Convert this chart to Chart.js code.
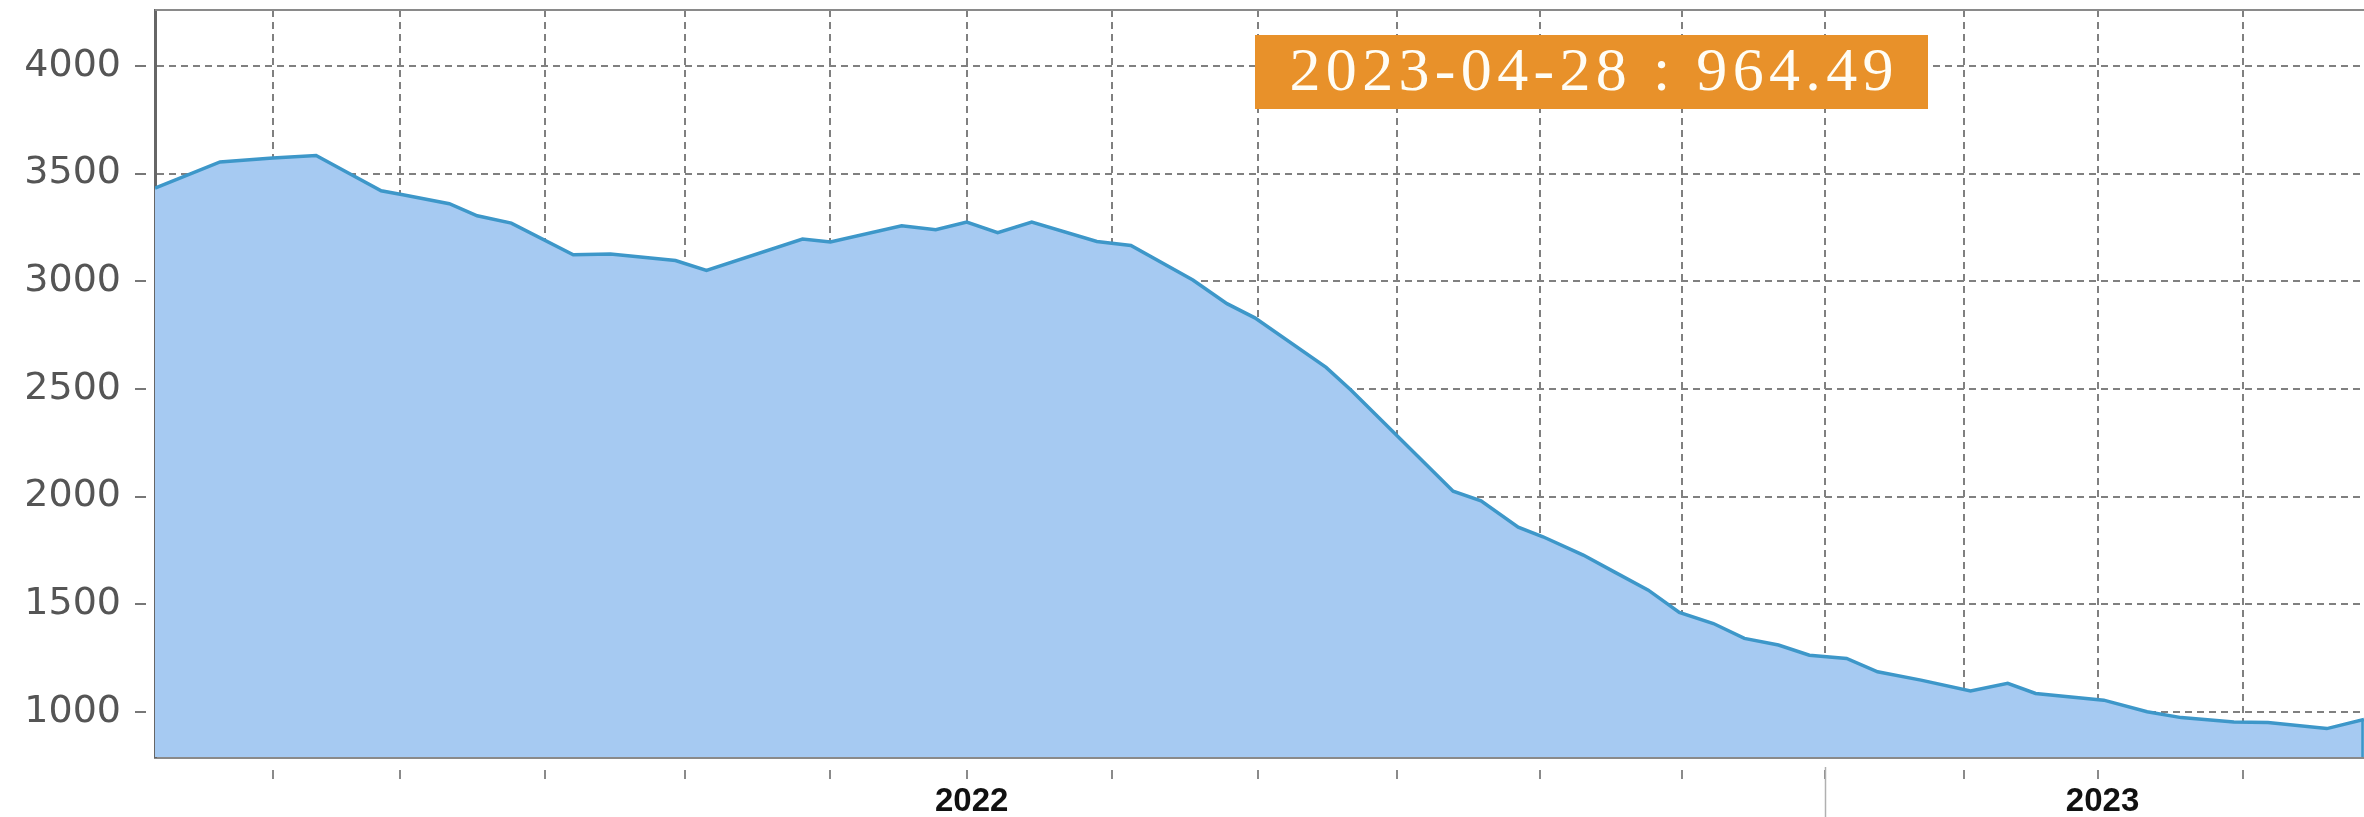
<!DOCTYPE html>
<html><head><meta charset="utf-8">
<script src="https://cdn.jsdelivr.net/npm/chart.js@4.4.1/dist/chart.umd.min.js"></script>
<style>html,body{margin:0;padding:0;background:#fff;} #wrap{width:2364px;height:817px;position:relative;}</style>
</head><body><div id="wrap"><canvas id="c" width="2364" height="817"></canvas></div>
<script>
// ---- data ----
const dates = ['2021-04-14','2021-05-05','2021-05-22','2021-06-05','2021-06-16','2021-06-26','2021-07-03','2021-07-18','2021-07-27','2021-08-07','2021-08-27','2021-09-08','2021-09-29','2021-10-09','2021-11-09','2021-11-18','2021-12-11','2021-12-22','2022-01-01','2022-01-11','2022-01-22','2022-02-12','2022-02-23','2022-03-15','2022-03-26','2022-04-04','2022-04-27','2022-05-05','2022-06-07','2022-06-16','2022-06-28','2022-07-06','2022-07-19','2022-07-29','2022-08-09','2022-08-19','2022-08-30','2022-09-09','2022-09-20','2022-09-30','2022-10-12','2022-10-22','2022-11-05','2022-11-21','2022-12-03','2022-12-12','2023-01-03','2023-01-17','2023-01-28','2023-02-14','2023-02-25','2023-03-16','2023-03-28'];
const values = [3433,3554,3572,3584,3498,3420,3402,3360,3304,3270,3123,3126,3096,3050,3196,3182,3258,3239,3275,3226,3275,3185,3166,3006,2896,2830,2600,2495,2025,1980,1858,1813,1728,1650,1565,1462,1410,1341,1310,1263,1248,1186,1147,1097,1132,1085,1054,1000,973,953,950,922,964.49];
const xTickDates = ['2021-05-22','2021-07-02','2021-08-18','2021-10-02','2021-11-18','2022-01-01','2022-02-17','2022-04-05','2022-05-20','2022-07-05','2022-08-20','2022-10-05','2022-11-19','2023-01-01','2023-02-17'];
const xTickLabels = ['','','','','','2022','','','','','','','','2023',''];
const yTicks = [1000,1500,2000,2500,3000,3500,4000];
const yMin = 790, yMax = 4260;
const noteText = '2023-04-28 : 964.49';
const longTickDate = '2022-10-05';

// ---- helpers ----
const DAY = 86400000;
const toDay = s => { const [y,m,d] = s.split('-').map(Number); return (Date.UTC(y,m-1,d) - Date.UTC(2022,0,1)) / DAY; };
const points = dates.map((d,i) => ({x: toDay(d), y: values[i]}));
const xTickVals = xTickDates.map(toDay);

const FILL = '#A6CAF2';
const LINE = '#3D97C9';

const extras = {
  id: 'extras',
  afterDatasetsDraw(chart) {
    const {ctx, chartArea: a} = chart;
    const pts = chart.getDatasetMeta(0).data;
    const last = pts[pts.length - 1];
    ctx.save();
    ctx.strokeStyle = LINE; ctx.lineWidth = 2.5;
    ctx.beginPath(); ctx.moveTo(last.x - 1.5, last.y); ctx.lineTo(last.x - 1.5, a.bottom); ctx.stroke();
    ctx.restore();
  },
  afterDraw(chart) {
    const {ctx, chartArea: a, scales: {x}} = chart;
    ctx.save();
    // top frame line
    ctx.strokeStyle = '#8a8a8a'; ctx.lineWidth = 2;
    ctx.beginPath(); ctx.moveTo(a.left, a.top); ctx.lineTo(a.right, a.top); ctx.stroke();
    // long tick below axis
    const lx = Math.round(x.getPixelForValue(toDay(longTickDate))) + 0.5;
    ctx.strokeStyle = '#b0b0b0'; ctx.lineWidth = 1.5;
    ctx.beginPath(); ctx.moveTo(lx, a.bottom + 10); ctx.lineTo(lx, chart.height); ctx.stroke();
    // annotation box
    const bx = a.left + 1100, by = a.top + 25, bw = 673, bh = 74;
    ctx.fillStyle = '#E8912A';
    ctx.fillRect(bx, by, bw, bh);
    ctx.font = '62px "Liberation Serif", "DejaVu Serif", serif';
    ctx.letterSpacing = '0px';
    const w0 = ctx.measureText(noteText).width;
    const extra = Math.max(0, (604 - w0) / (noteText.length - 1));
    ctx.letterSpacing = extra.toFixed(2) + 'px';
    ctx.fillStyle = '#FFFDF5';
    ctx.textAlign = 'left'; ctx.textBaseline = 'middle';
    const w1 = ctx.measureText(noteText).width - extra;
    ctx.fillText(noteText, bx + (bw - w1) / 2, by + bh / 2 + 2);
    ctx.restore();
  }
};

new Chart(document.getElementById('c'), {
  type: 'line',
  data: { datasets: [{
    data: points, fill: 'start', backgroundColor: FILL, borderColor: LINE,
    borderWidth: 3.5, pointRadius: 0, pointHoverRadius: 0, tension: 0
  }]},
  options: {
    responsive: false, animation: false, devicePixelRatio: 1,
    layout: { padding: { top: 10, right: 0, left: 0, bottom: 0 } },
    plugins: { legend: { display: false }, tooltip: { enabled: false } },
    scales: {
      x: {
        type: 'linear', min: points[0].x, max: points[points.length - 1].x,
        afterBuildTicks: s => { s.ticks = xTickVals.map(v => ({value: v})); },
        afterFit: s => { s.height = 60; s.paddingLeft = 0; s.paddingRight = 0; },
        ticks: {
          autoSkip: false, maxRotation: 0, padding: 3, labelOffset: 5, color: '#111',
          font: { family: '"Liberation Sans", Arial, sans-serif', size: 33, weight: 'bold' },
          callback: (v, i) => xTickLabels[i]
        },
        grid: { color: '#808080', lineWidth: 2, tickLength: 22, tickColor: '#8a8a8a', tickWidth: 2, tickBorderDash: [0, 11, 11, 100] },
        border: { display: true, color: '#8a8a8a', width: 3, dash: [7, 5] }
      },
      y: {
        min: yMin, max: yMax,
        afterBuildTicks: s => { s.ticks = yTicks.map(v => ({value: v})); },
        afterFit: s => { s.width = 155; s.paddingTop = 0; s.paddingBottom = 0; },
        ticks: { padding: 14, color: '#555', font: { family: '"DejaVu Sans", Verdana, sans-serif', size: 38 },
          callback: v => String(v) },
        grid: { color: '#808080', lineWidth: 2, tickLength: 20, tickColor: '#777', tickWidth: 2, tickBorderDash: [11, 100] },
        border: { display: true, color: '#666', width: 3, dash: [7, 5] }
      }
    }
  },
  plugins: [extras]
});
</script>
</body></html>
